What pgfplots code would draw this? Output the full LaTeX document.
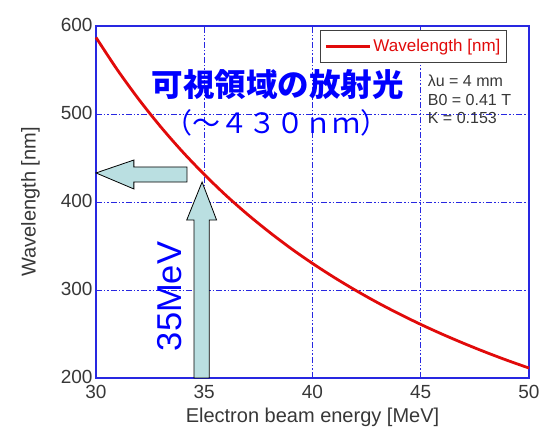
\documentclass[border=0pt]{standalone}
\usepackage{pgfplots}
\pgfplotsset{compat=1.18}
\usepackage{fontspec}
\setmainfont{Liberation Sans}
\newfontfamily\cjk{Noto Sans CJK JP}
\definecolor{arrowfill}{RGB}{186,223,225}
\definecolor{labgray}{RGB}{55,55,55}
\definecolor{axblue}{RGB}{40,40,225}
\definecolor{curvered}{RGB}{225,10,10}
\begin{document}
\begin{tikzpicture}
\path[use as bounding box] (-96pt,-49pt) rectangle (445pt,378pt);
\begin{axis}[
 scale only axis, width=433pt, height=352pt,
 anchor=south west, at={(0pt,0pt)},
 xmin=30, xmax=50, ymin=200, ymax=600,
 xtick={30,35,40,45,50}, ytick={200,300,400,500,600},
 grid=major,
 major grid style={axblue, line width=0.8pt, dash pattern=on 6pt off 2pt on 1.5pt off 2pt on 1.5pt off 2pt},
 axis line style={axblue, line width=1.2pt},
 tick style={draw=none},
 tick label style={font=\fontsize{19}{22}\selectfont, text=labgray},
 xticklabel style={yshift=-4pt},
 yticklabel style={yshift=1.5pt},
 /pgf/number format/assume math mode=true,
 xlabel={Electron beam energy [MeV]}, ylabel={Wavelength [nm]},
 label style={font=\fontsize{20}{24}\selectfont, text=labgray},
 xlabel style={yshift=-2pt},
 ylabel style={yshift=14pt},
 clip=false,
 legend style={at={(0.949,0.989)}, anchor=north east, draw=black!75, line width=1pt,
   font=\fontsize{17}{19}\selectfont, text=curvered, inner xsep=4pt, inner ysep=7pt},
 legend cell align=left,
 legend image code/.code={\draw[#1, line width=3pt] (0pt,0pt) -- (44pt,0pt);},
]
% arrows
\addplot[fill=arrowfill, draw=black, line width=0.8pt, forget plot] coordinates {
 (30,433) (31.75,447.7) (31.75,439.8) (34.2,439.8) (34.2,422.7) (31.75,422.7) (31.75,414.8)} -- cycle;
\addplot[fill=arrowfill, draw=black, line width=0.8pt, forget plot] coordinates {
 (34.9,422.7) (35.57,379.5) (35.23,379.5) (35.23,200) (34.53,200) (34.53,379.5) (34.19,379.5)} -- cycle;
% curve
\addplot[curvered, line width=2.8pt, smooth] coordinates {
 (30,587.0) (31,549.7) (32,515.9) (33,485.1) (34,457.0) (35,431.3) (36,407.6)
 (37,385.9) (38,365.9) (39,347.3) (40,330.2) (41,314.3) (42,299.5) (43,285.7)
 (44,272.9) (45,260.9) (46,249.7) (47,239.2) (48,229.3) (49,220.0) (50,211.3)};
\addlegendentry{Wavelength [nm]}
\node[text=blue, font=\fontsize{31.5}{34}\selectfont\cjk\bfseries] at (axis cs:38.4,534) {可視領域の放射光};
\node[text=blue, font=\fontsize{28}{30}\selectfont\cjk] at (axis cs:38.35,490) {（～４３０ｎｍ）};
\node[text=blue, rotate=90, font=\fontsize{34.5}{38}\selectfont] at (axis cs:33.41,292.6) {35MeV};
\node[anchor=north west, align=left, inner sep=0pt, text=labgray, font=\fontsize{16}{18.5}\selectfont] at (axis cs:45.32,544.3) {λu = 4 mm\\B0 = 0.41 T\\K = 0.153};
\end{axis}
\end{tikzpicture}
\end{document}
